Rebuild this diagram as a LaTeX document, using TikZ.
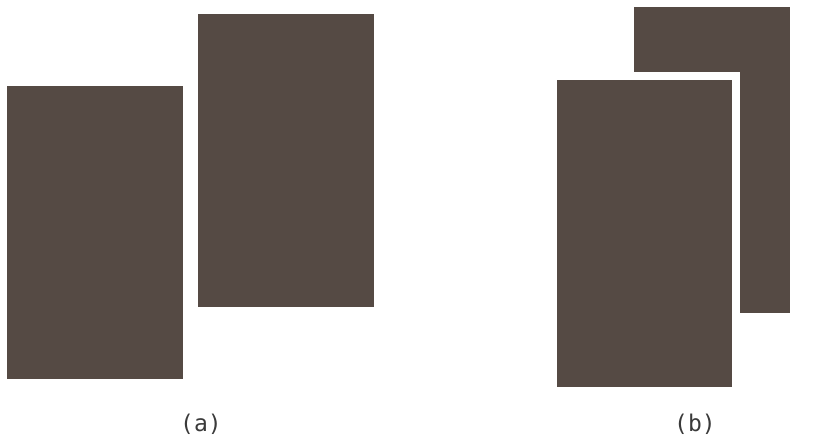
\documentclass[tikz,border=0pt]{standalone}
\usepackage{fontspec}
\newfontfamily\lblfont{DejaVu Sans Mono}
\definecolor{slab}{HTML}{554A44}
\definecolor{lbl}{HTML}{3A3A3A}
\begin{document}
\begin{tikzpicture}[x=1pt,y=-1pt,
  slabbox/.style={fill=slab,draw=none,inner sep=0pt,outer sep=0pt},
  gapbox/.style={fill=white,draw=none},
  caption/.style={font=\lblfont\fontsize{23}{26}\selectfont,text=lbl,inner sep=0pt}]
\useasboundingbox (0,0) rectangle (818,439);
% (a)
\fill[slab] (7,86) rectangle (183,379);
\coordinate (aL) at (95,232);
\fill[slab] (198,14) rectangle (374,307);
\coordinate (aR) at (286,160);
\node[caption] (capa) at (201,424) {(a)};
% (b)
\fill[slab] (634,7) rectangle (790,313);
\fill[gapbox] (549,72) rectangle (740,395);
\fill[slab] (557,80) rectangle (732,387);
\node[caption] (capb) at (695,424) {(b)};
\end{tikzpicture}
\end{document}
